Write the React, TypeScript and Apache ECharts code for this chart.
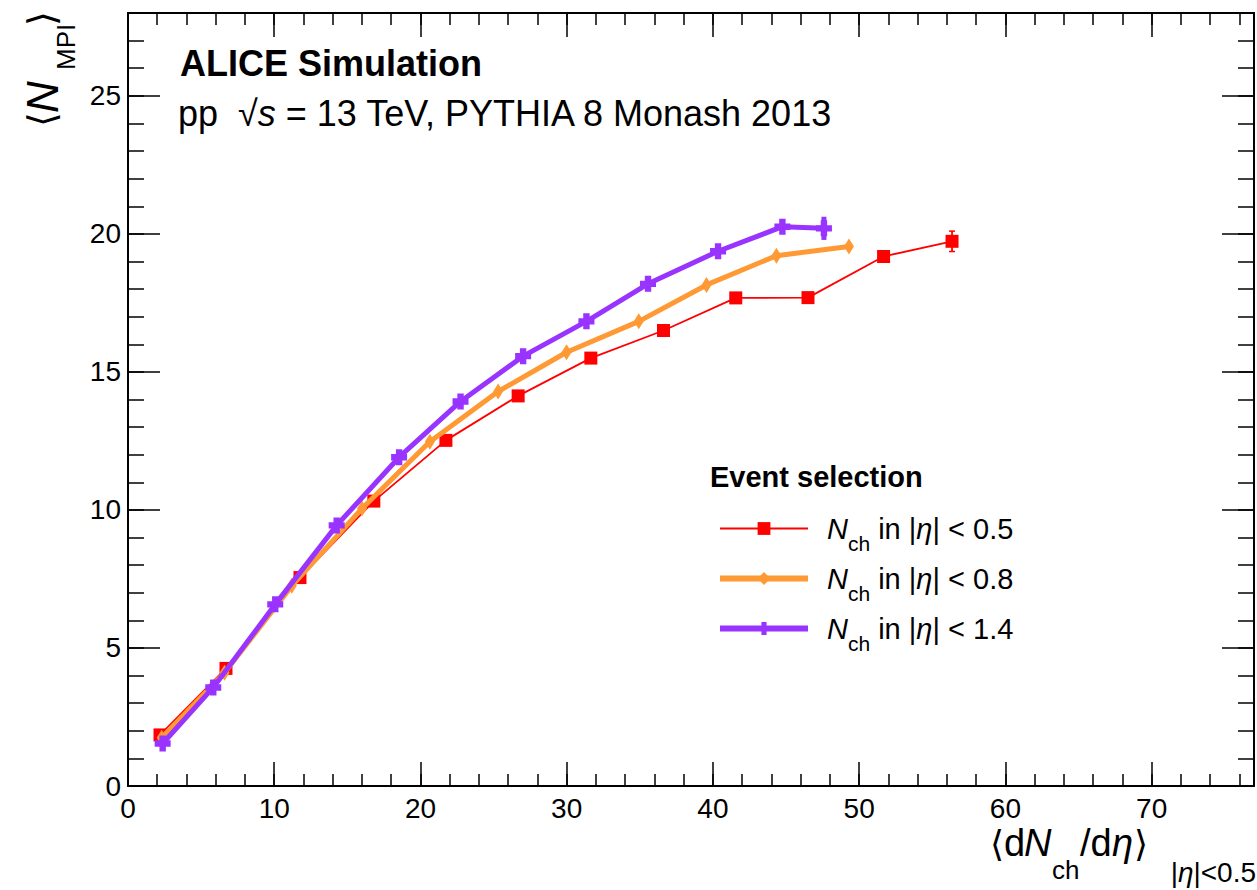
import React, { useEffect, useRef } from "react";
import * as echarts from "echarts";

const FONT = "'Liberation Sans', Arial, Helvetica, sans-serif";
const MATH = "'DejaVu Sans', 'Liberation Sans', sans-serif";

// Axis ranges
const X_MIN = 0;
const X_MAX = 77;
const Y_MIN = 0;
const Y_MAX = 28;

// Series: N_ch in |eta| < 0.5 (red squares)
const redX = [2.19, 6.7, 11.76, 16.81, 21.74, 26.68, 31.65, 36.62, 41.56, 46.5, 51.67, 56.35];
const redY = [1.85, 4.26, 7.55, 10.32, 12.52, 14.13, 15.5, 16.5, 17.68, 17.69, 19.18, 19.73];
const redErr = [0, 0, 0, 0, 0, 0, 0, 0, 0, 0, 0, 0.37];

// Series: N_ch in |eta| < 0.8 (orange diamonds)
const orangeX = [2.3, 6.6, 11.2, 16.0, 20.64, 25.31, 29.99, 34.93, 39.56, 44.34, 49.3];
const orangeY = [1.75, 4.1, 7.25, 10.05, 12.47, 14.29, 15.71, 16.83, 18.15, 19.21, 19.54];

// Series: N_ch in |eta| < 1.4 (purple crosses)
const purpleX = [2.37, 5.83, 10.07, 14.27, 18.54, 22.74, 27.02, 31.35, 35.56, 40.35, 44.75, 47.59];
const purpleY = [1.54, 3.57, 6.58, 9.44, 11.91, 13.93, 15.57, 16.83, 18.19, 19.37, 20.26, 20.2];
const purpleErr = [0, 0, 0, 0, 0, 0, 0, 0, 0, 0, 0, 0.42];

const seriesNames = ["eta05", "eta08", "eta14"];
const legendLabels = [
  "{N|N}{s|ch} in |{i|η}| < 0.5",
  "{N|N}{s|ch} in |{i|η}| < 0.8",
  "{N|N}{s|ch} in |{i|η}| < 1.4",
];
const seriesColors = ["#ff0000", "#ff9933", "#9933ff"];
const seriesWidths = [1.8, 5, 5];
const legendWidths = [1.8, 6, 6];

const CROSS = "path://M6,0H14V6H20V14H14V20H6V14H0V6H6Z";

export default function App() {
  const ref = useRef<HTMLDivElement>(null);

  useEffect(() => {
    if (!ref.current) return;
    const chart = echarts.init(ref.current, null, { renderer: "svg" });

    const zip = (xs: number[], ys: number[]) => xs.map((x, i) => [x, ys[i]]);
    const errData = (xs: number[], ys: number[], es: number[]) =>
      xs
        .map((x, i) => [x, ys[i] - es[i], ys[i] + es[i], es[i]])
        .filter((d) => d[3] > 0);

    const lineStyle = { color: "#000", width: 2 };
    const tickStyle = { color: "#000", width: 1.5 };

    const mkX = (position: string, interval: number, len: number, showLine: boolean, showLabel: boolean) => ({
      type: "value",
      gridIndex: 0,
      position,
      min: X_MIN,
      max: X_MAX,
      interval,
      axisLine: { show: showLine, onZero: false, lineStyle },
      axisTick: { show: true, inside: true, length: len, lineStyle: tickStyle },
      axisLabel: {
        show: showLabel,
        showMaxLabel: false,
        margin: 8,
        color: "#000",
        fontSize: 28,
        fontFamily: FONT,
        formatter: (v: number) => (v % 10 === 0 && v <= 70 ? String(v) : ""),
      },
      splitLine: { show: false },
    });
    const mkY = (position: string, interval: number, len: number, showLine: boolean, showLabel: boolean) => ({
      type: "value",
      gridIndex: 0,
      position,
      min: Y_MIN,
      max: Y_MAX,
      interval,
      axisLine: { show: showLine, onZero: false, lineStyle },
      axisTick: { show: true, inside: true, length: len, lineStyle: tickStyle },
      axisLabel: {
        show: showLabel,
        showMaxLabel: false,
        margin: 7,
        color: "#000",
        fontSize: 28,
        fontFamily: FONT,
        formatter: (v: number) => (v % 5 === 0 && v <= 25 ? String(v) : ""),
      },
      splitLine: { show: false },
    });

    const errRender = (color: string, width: number, cap: number) => (params: any, api: any) => {
      const x = api.value(0);
      const lo = api.coord([x, api.value(1)]);
      const hi = api.coord([x, api.value(2)]);
      const children: any[] = [
        { type: "line", shape: { x1: lo[0], y1: lo[1], x2: hi[0], y2: hi[1] }, style: { stroke: color, lineWidth: width } },
      ];
      if (cap > 0) {
        children.push(
          { type: "line", shape: { x1: lo[0] - cap, y1: lo[1], x2: lo[0] + cap, y2: lo[1] }, style: { stroke: color, lineWidth: 1.5 } },
          { type: "line", shape: { x1: hi[0] - cap, y1: hi[1], x2: hi[0] + cap, y2: hi[1] }, style: { stroke: color, lineWidth: 1.5 } }
        );
      }
      return { type: "group", children };
    };

    const txt = (text: string, x: number, y: number, fontSize: number, extra: any = {}) => ({
      type: "text",
      x,
      y,
      silent: true,
      style: {
        text,
        fontSize,
        fontFamily: FONT,
        fill: "#000",
        align: "left",
        verticalAlign: "middle",
        ...extra,
      },
    });

    const option: any = {
      animation: false,
      backgroundColor: "#fff",
      grid: { left: 128, right: 3, top: 13, bottom: 104, containLabel: false },
      xAxis: [
        mkX("bottom", 10, 24, true, true),
        mkX("bottom", 2, 12, false, false),
        mkX("top", 10, 24, true, false),
        mkX("top", 2, 12, false, false),
      ],
      yAxis: [
        mkY("left", 5, 32, true, true),
        mkY("left", 1, 16, false, false),
        mkY("right", 5, 32, true, false),
        mkY("right", 1, 16, false, false),
      ],
      legend: {
        data: seriesNames.map((n, i) => ({ name: n, lineStyle: { width: legendWidths[i] } })),
        orient: "vertical",
        left: 717,
        top: 514,
        padding: 0,
        itemWidth: 88,
        itemHeight: 16,
        itemGap: 10,
        selectedMode: false,
        formatter: (name: string) => legendLabels[seriesNames.indexOf(name)],
        textStyle: {
          color: "#000",
          fontSize: 29,
          fontFamily: FONT,
          rich: {
            N: { fontStyle: "italic", fontSize: 29, fontFamily: FONT, color: "#000", padding: [0, 0, 0, 14] },
            i: { fontStyle: "italic", fontSize: 29, fontFamily: FONT, color: "#000" },
            s: { fontSize: 21, fontFamily: FONT, color: "#000", padding: [30, 0, 0, 0] },
          },
        },
      },
      series: [
        {
          type: "line",
          name: seriesNames[0],
          xAxisIndex: 0,
          yAxisIndex: 0,
          data: zip(redX, redY),
          symbol: "rect",
          symbolSize: 13,
          lineStyle: { color: seriesColors[0], width: seriesWidths[0] },
          itemStyle: { color: seriesColors[0] },
          z: 3,
        },
        {
          type: "custom",
          xAxisIndex: 0,
          yAxisIndex: 0,
          data: errData(redX, redY, redErr),
          encode: { x: 0, y: [1, 2] },
          renderItem: errRender(seriesColors[0], 1.8, 3),
          silent: true,
          z: 3,
        },
        {
          type: "line",
          name: seriesNames[1],
          xAxisIndex: 0,
          yAxisIndex: 0,
          data: zip(orangeX, orangeY),
          symbol: "diamond",
          symbolSize: [10, 16],
          lineStyle: { color: seriesColors[1], width: seriesWidths[1] },
          itemStyle: { color: seriesColors[1] },
          z: 4,
        },
        {
          type: "line",
          name: seriesNames[2],
          xAxisIndex: 0,
          yAxisIndex: 0,
          data: zip(purpleX, purpleY),
          symbol: CROSS,
          symbolSize: 16,
          lineStyle: { color: seriesColors[2], width: seriesWidths[2] },
          itemStyle: { color: seriesColors[2] },
          z: 5,
        },
        {
          type: "custom",
          xAxisIndex: 0,
          yAxisIndex: 0,
          data: errData(purpleX, purpleY, purpleErr),
          encode: { x: 0, y: [1, 2] },
          renderItem: errRender(seriesColors[2], 5, 0),
          silent: true,
          z: 5,
        },
      ],
      graphic: [
        // header
        txt("ALICE Simulation", 180, 63, 36, { fontWeight: "bold" }),
        txt("pp  √{i|s} = 13 TeV, PYTHIA 8 Monash 2013", 178, 113, 36, {
          rich: { i: { fontStyle: "italic", fontSize: 36, fontFamily: FONT, fill: "#000" } },
        }),
        // legend header
        txt("Event selection", 710, 477, 29, { fontWeight: "bold" }),
        // x-axis title
        txt("⟨", 990, 843, 36, { fontFamily: MATH }),
        txt("d", 1004, 843, 38),
        txt("N", 1024, 843, 38, { fontStyle: "italic" }),
        txt("ch", 1052, 870, 26),
        txt("/d", 1080, 843, 38),
        txt("η", 1112, 843, 38, { fontStyle: "italic" }),
        txt("⟩", 1134, 843, 36, { fontFamily: MATH }),
        txt("|{i|η}|<0.5", 1256, 872, 28, {
          align: "right",
          rich: { i: { fontStyle: "italic", fontSize: 28, fontFamily: FONT, fill: "#000" } },
        }),
        // y-axis title (rotated)
        {
          type: "group",
          x: 42,
          y: 127,
          rotation: Math.PI / 2,
          silent: true,
          children: [
            txt("⟨", 0, 0, 38, { fontFamily: MATH }),
            txt("N", 14, 0, 44, { fontStyle: "italic" }),
            txt("MPI", 57, 24, 26),
            txt("⟩", 101, 0, 38, { fontFamily: MATH }),
          ],
        },
      ],
    };

    chart.setOption(option);
    return () => chart.dispose();
  }, []);

  return (
    <div
      ref={ref}
      style={{ position: "fixed", left: 0, top: 0, width: 1257, height: 890, background: "#fff" }}
    />
  );
}
